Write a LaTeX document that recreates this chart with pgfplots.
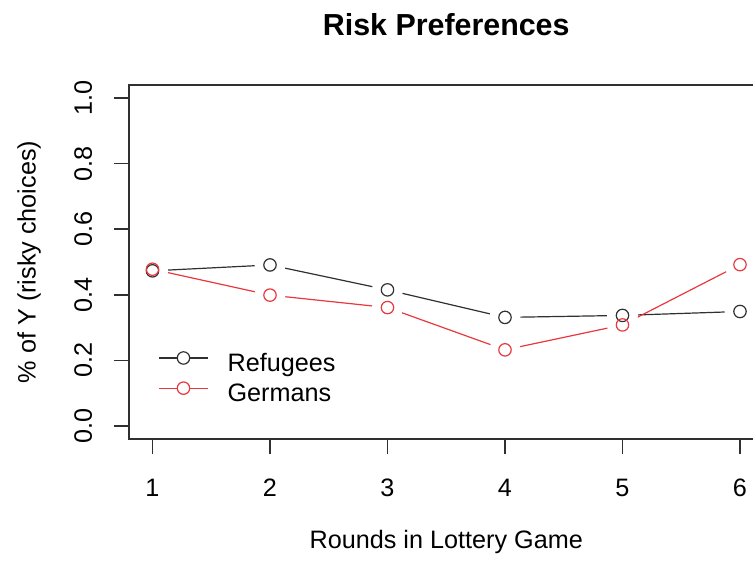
\documentclass[border=0pt]{standalone}
\usepackage{fontspec}
\setmainfont{Liberation Sans}
\usepackage{pgfplots}
\usepackage{pgfplotstable}
\pgfplotsset{compat=1.18}

\definecolor{rgray}{HTML}{303030}
\definecolor{rred}{HTML}{E8383D}
\newcommand\fs{\fontsize{12.6bp}{15bp}\selectfont}

% share of risky choices per round
\pgfplotstableread{
round value
1 0.473
2 0.491
3 0.415
4 0.331
5 0.337
6 0.349
}\refugees
\pgfplotstableread{
round value
1 0.478
2 0.399
3 0.361
4 0.232
5 0.308
6 0.492
}\germans

\begin{document}
\begin{tikzpicture}
\begin{axis}[
    at={(0,0)}, anchor=south west,
    scale only axis,
    width=317.25bp, height=177bp,
    xmin=0.8, xmax=6.2, ymin=-0.04, ymax=1.04,
    xtick={1,2,3,4,5,6},
    ytick={0,0.2,0.4,0.6,0.8,1},
    xtick pos=bottom, ytick pos=left,
    tick align=outside, major tick length=7.5bp,
    axis line style={rgray, line width=0.75bp},
    every tick/.style={rgray, line width=0.75bp},
    /pgf/number format/assume math mode=true,
    tick label style={font=\fs},
    y tick label style={/pgf/number format/fixed,
                        /pgf/number format/fixed zerofill,
                        /pgf/number format/precision=1},
    xticklabel style={anchor=base, yshift=-21bp},
    yticklabel style={xshift=-11bp, rotate=90, anchor=base},
    xlabel={Rounds in Lottery Game},
    xlabel style={at={(axis description cs:0.5,-0.3079)}, anchor=base, font=\fs},
    ylabel={\% of Y (risky choices)},
    ylabel style={at={(axis description cs:-0.1575,0.5)}, anchor=center, font=\fs},
    title={Risk Preferences},
    title style={at={(axis description cs:0.5,1.107)}, anchor=base,
                 font=\bfseries\fontsize{15.2bp}{18bp}\selectfont},
    legend style={draw=none, fill=none, at={(axis description cs:0.0457,0.164)},
                  anchor=west, inner sep=0pt, font=\fs, row sep=1bp,
                  nodes={inner sep=2bp, text height=0.73em, text depth=0.21em}},
    legend cell align=left,
    legend image code/.code={
        \draw[mark repeat=2, mark phase=2, yshift=4.3bp, #1]
            plot coordinates {(0bp,0bp) (12.25bp,0bp) (24.5bp,0bp)};
        \path (32bp,0bp);
    },
]
% lines
\addplot[rgray, line width=0.6bp, forget plot] table[x=round, y=value] {\refugees};
\addplot[rred, line width=0.6bp, forget plot] table[x=round, y=value] {\germans};
% gaps round the points (type = "b")
\addplot[white, only marks, mark=*, mark size=7.5bp, mark options={draw=white, fill=white}, forget plot]
    table[x=round, y=value] {\refugees};
\addplot[white, only marks, mark=*, mark size=7.5bp, mark options={draw=white, fill=white}, forget plot]
    table[x=round, y=value] {\germans};
% points
\addplot[only marks, mark=o, mark size=3.1bp, rgray, mark options={line width=0.6bp}, forget plot]
    table[x=round, y=value] {\refugees};
\addplot[only marks, mark=o, mark size=3.1bp, rred, mark options={line width=0.6bp}, forget plot]
    table[x=round, y=value] {\germans};

\addlegendimage{rgray, line width=0.6bp, mark=*, mark size=3.1bp, mark options={fill=white}}
\addlegendentry{Refugees}
\addlegendimage{rred, line width=0.6bp, mark=*, mark size=3.1bp, mark options={fill=white}}
\addlegendentry{Germans}
\end{axis}
\pgfresetboundingbox
\useasboundingbox (-64.5bp,-61bp) rectangle (312bp,219.5bp);
\end{tikzpicture}
\end{document}
